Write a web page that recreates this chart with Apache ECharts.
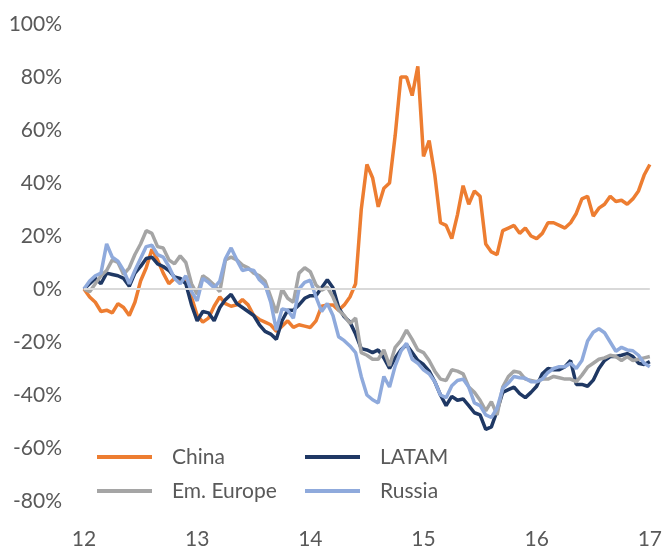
<!DOCTYPE html>
<html>
<head>
<meta charset="utf-8">
<script src="https://cdn.jsdelivr.net/npm/echarts@6/dist/echarts.min.js"></script>
<style>
  html, body { margin: 0; padding: 0; background: #fff; }
  #chart { width: 665px; height: 550px; }
</style>
</head>
<body>
<div id="chart"></div>
<script>
// Cumulative performance since start of 2012, sampled every 0.05 year (12 = 2012 ... 17 = 2017)
const startYear = 12;
const sampleStep = 0.05;

const china = [
  0, -3, -5, -8.5, -8, -9, -5.5, -7, -10, -5,
  3, 8, 15, 11, 6, 2, 4, 3, 4, -3,
  -10, -12.5, -11, -6.5, -3, -5.5, -6.5, -6, -4, -6,
  -10, -11.5, -12.5, -13.5, -16, -14, -12, -14.5, -13.5, -14,
  -14.5, -12, -6.5, -6, -6, -8, -6, -3, 2, 30,
  47, 42, 31, 38, 40, 58, 80, 80, 73, 84,
  50, 56, 43, 25, 24, 19, 28, 39, 32, 37,
  35, 17, 14, 13, 22, 23, 24, 21, 23, 20,
  19, 21, 25, 25, 24, 23, 25, 28.5, 34, 35,
  27.5, 30.5, 32, 35, 33, 33.5, 32, 34, 37, 43,
  47
];

const latam = [
  0, 2, 4, 2, 6, 5.5, 5, 4, 1, 6,
  8.5, 11.5, 12, 9.5, 8.5, 7, 4.5, 4, 2, -6,
  -12, -8.5, -9, -12, -7, -4, -2, -5.5, -7, -8.5,
  -10, -13.5, -16, -17, -19, -12, -8, -8, -6, -3.5,
  -2.5, -2.5, 0.5, 3.5, 0.5, -7, -10.5, -12.5, -17, -22.5,
  -23, -24, -23, -26, -30, -26, -23, -21, -24, -27,
  -28.5, -31, -35, -40, -44, -40.5, -42, -41.5, -44, -46.7,
  -47.5, -53, -52, -46, -39, -38, -37, -39.5, -41, -39,
  -36.7, -32, -30, -30.5, -30.5, -29.3, -27, -36, -36, -36.7,
  -34.4, -30, -27, -25.5, -25.5, -25, -24.4, -25.5, -28, -28.5,
  -27.4
];

const emEurope = [
  0, -1, 2, 5, 7, 11, 10, 5.5, 8, 13,
  17, 22, 21, 16, 15.5, 11, 9.5, 12.5, 10, 2,
  -2, 5, 3.5, 1.5, -1, 11, 12, 11, 9, 8,
  6, 5, 3, -3, -9, 0, -3.5, -5, 6, 8,
  6.5, 1.5, -0.5, 0.7, -3, -8, -10, -13, -11, -24,
  -25, -26.5, -26.5, -23, -29, -22, -19.5, -15.5, -19, -23,
  -24, -27, -31, -34, -34.5, -30.5, -31, -32, -37, -39,
  -42, -46, -42.5, -47.5, -37, -33, -31, -31.5, -34, -34.5,
  -35, -34, -34, -33, -33.5, -34, -34, -35, -32.5, -29.5,
  -28, -26.5, -26, -25, -25.5, -27, -25.5, -27, -26.5, -26,
  -25.5
];

const russia = [
  0, 3, 5, 6, 17, 12, 10.5, 7, 2, 7,
  11.5, 16, 16.5, 13, 12, 8.5, 4, 2, 5, -1,
  -4.5, 4, 2.5, 0.5, 3, 11.5, 15.5, 11, 7, 7.5,
  7, 3.5, 1.5, -5, -15.5, -7.5, -8, -11, 0, 2.5,
  3.3, -3, -8.5, -5.5, -10, -18, -19.5, -21.5, -24, -33,
  -40, -41.8, -43, -33, -37, -29, -23.5, -20.5, -26.5, -28,
  -30.5, -32, -35, -40, -41, -36.5, -34.5, -34, -37, -43,
  -44, -47.5, -48.5, -45, -37.5, -35.5, -33, -33.5, -33.7, -35,
  -35, -34, -31.5, -30, -29.3, -29.3, -28, -30, -27, -19.6,
  -16.3, -15, -16.5, -20, -23.5, -22, -23, -23.3, -25, -28,
  -29.3
];

const yTicks = { min: -80, max: 100, step: 20 };
const xTicks = { min: 12, max: 17, step: 1 };

function toPoints(values) {
  return values.map((v, i) => [startYear + i * sampleStep, v]);
}

const seriesDefs = [
  { name: 'China', values: china, color: '#ED7D31' },
  { name: 'LATAM', values: latam, color: '#1F3864' },
  { name: 'Em. Europe', values: emEurope, color: '#A5A5A5' },
  { name: 'Russia', values: russia, color: '#8FAADC' }
];

const textColor = '#595959';
const fontFamily = 'Lato, "Open Sans", sans-serif';
const fontSize = 21;

// legend entries laid out in a 2x2 block inside the plot
const legendSlots = [
  { name: 'China', left: 97, top: 445 },
  { name: 'LATAM', left: 305, top: 445 },
  { name: 'Em. Europe', left: 97, top: 479 },
  { name: 'Russia', left: 305, top: 479 }
];

const chart = echarts.init(document.getElementById('chart'), null, { renderer: 'canvas' });

chart.setOption({
  animation: false,
  backgroundColor: '#ffffff',
  grid: { left: 84, right: 15, top: 24, bottom: 40, containLabel: false },
  legend: legendSlots.map(s => ({
    data: [s.name],
    left: s.left,
    top: s.top,
    padding: 0,
    itemWidth: 55,
    itemHeight: 4,
    icon: 'rect',
    selectedMode: false,
    textStyle: {
      color: textColor,
      fontFamily: fontFamily,
      fontSize: fontSize,
      lineHeight: 24,
      padding: [0, 0, 0, 15]
    }
  })),
  xAxis: {
    type: 'value',
    min: xTicks.min,
    max: xTicks.max,
    interval: xTicks.step,
    axisLine: { show: false },
    axisTick: { show: false },
    splitLine: { show: false },
    axisLabel: {
      color: textColor,
      fontFamily: fontFamily,
      fontSize: fontSize,
      margin: 28
    }
  },
  yAxis: {
    type: 'value',
    min: yTicks.min,
    max: yTicks.max,
    interval: yTicks.step,
    axisLine: { show: false },
    axisTick: { show: false },
    splitLine: { show: false },
    axisLabel: {
      color: textColor,
      fontFamily: fontFamily,
      fontSize: fontSize,
      margin: 22,
      formatter: '{value}%'
    }
  },
  series: [
    {
      // zero reference line, kept beneath the data lines
      type: 'line',
      data: [],
      z: 1,
      silent: true,
      markLine: {
        silent: true,
        symbol: 'none',
        label: { show: false },
        lineStyle: { color: '#D9D9D9', width: 2, type: 'solid' },
        data: [{ yAxis: 0 }]
      }
    }
  ].concat(seriesDefs.map(s => ({
    name: s.name,
    type: 'line',
    data: toPoints(s.values),
    showSymbol: false,
    symbol: 'none',
    z: 2,
    color: s.color,
    lineStyle: { color: s.color, width: 3.5 }
  })))
});
</script>
</body>
</html>
